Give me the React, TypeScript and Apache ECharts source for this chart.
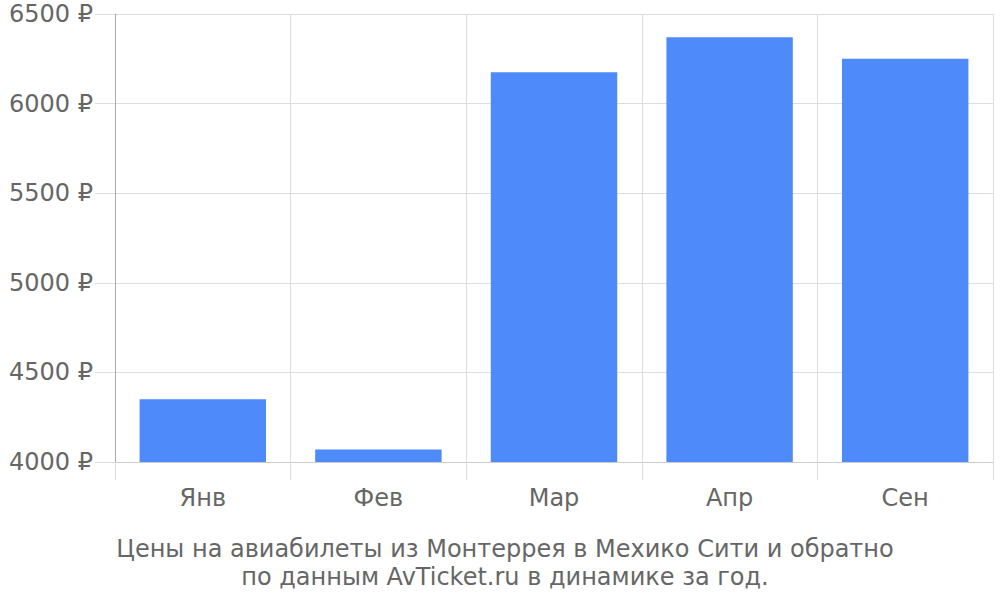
import { useEffect, useRef } from 'react';
import * as echarts from 'echarts';

const months = ['Янв', 'Фев', 'Мар', 'Апр', 'Сен'];
const prices = [4350, 4070, 6175, 6370, 6250];
const titleLines = [
  'Цены на авиабилеты из Монтеррея в Мехико Сити и обратно',
  'по данным AvTicket.ru в динамике за год.',
];

export default function App() {
  const chartRef = useRef<HTMLDivElement>(null);

  useEffect(() => {
    if (!chartRef.current) return;
    const chart = echarts.init(chartRef.current, null, { renderer: 'svg' });

    const option: echarts.EChartsOption = {
      animation: false,
      textStyle: { fontFamily: 'DejaVu Sans' },
      title: {
        text: titleLines.join('\n'),
        left: 500,
        top: 530,
        textAlign: 'center',
        textStyle: {
          fontSize: 24,
          fontWeight: 'normal',
          color: '#666',
          lineHeight: 28,
          fontFamily: 'DejaVu Sans',
        },
      },
      grid: { left: 115, right: 7, top: 14, bottom: 138 },
      xAxis: {
        type: 'category',
        data: months,
        boundaryGap: true,
        axisLine: { lineStyle: { color: '#ccc', width: 1 } },
        axisTick: { show: true, length: 18, lineStyle: { color: '#ddd' } },
        splitLine: { show: true, lineStyle: { color: '#ddd' } },
        axisLabel: { fontSize: 24, color: '#666', margin: 24 },
      },
      yAxis: {
        type: 'value',
        min: 4000,
        max: 6500,
        interval: 500,
        axisLine: { show: true, lineStyle: { color: '#aaa' } },
        axisTick: { show: true, length: 20, lineStyle: { color: '#ddd' } },
        splitLine: { show: true, lineStyle: { color: '#ddd' } },
        axisLabel: {
          fontSize: 24,
          color: '#666',
          margin: 22,
          formatter: (v: number) => `${v} ₽`,
        },
      },
      series: [
        {
          type: 'bar',
          data: prices,
          barWidth: '72%',
          itemStyle: { color: '#4e8af9' },
        },
      ],
    };

    chart.setOption(option);
    return () => chart.dispose();
  }, []);

  return (
    <div
      ref={chartRef}
      style={{ position: 'fixed', left: 0, top: 0, width: 1000, height: 600, background: '#fff' }}
    />
  );
}
